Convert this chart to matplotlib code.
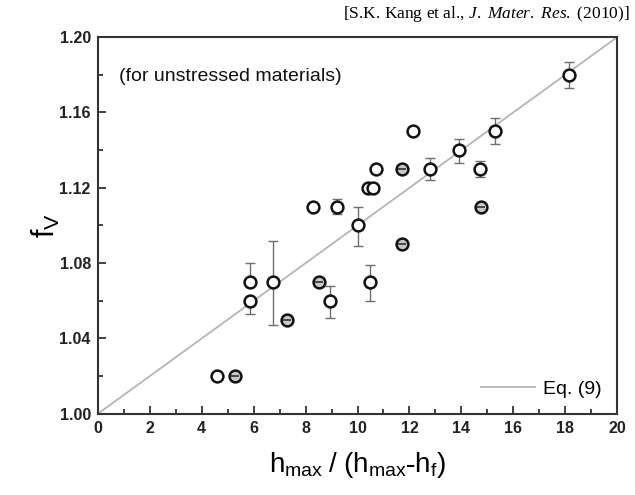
import matplotlib
matplotlib.use("Agg")
import matplotlib.pyplot as plt
import numpy as np
from matplotlib.ticker import MultipleLocator

plt.rcParams['font.family'] = ['Liberation Sans', 'DejaVu Sans']
plt.rcParams['mathtext.fontset'] = 'custom'
plt.rcParams['mathtext.rm'] = 'Liberation Serif'
plt.rcParams['mathtext.it'] = 'Liberation Serif:italic'

# open circles (with error bars where present)
x_open = [4.6, 5.85, 5.85, 6.75, 8.3, 8.95, 9.2, 10.0, 10.4, 10.6, 10.5, 10.7, 12.15, 12.8, 13.9, 14.7, 15.3, 18.15]
f_open = [1.02, 1.07, 1.06, 1.07, 1.11, 1.06, 1.11, 1.10, 1.12, 1.12, 1.07, 1.13, 1.15, 1.13, 1.14, 1.13, 1.15, 1.18]
err_lo = [0, 0, 0.007, 0.023, 0, 0.009, 0.004, 0.011, 0, 0, 0.010, 0, 0, 0.006, 0.007, 0.004, 0.007, 0.007]
err_hi = [0, 0.010, 0, 0.022, 0, 0.008, 0.004, 0.010, 0, 0, 0.009, 0, 0, 0.006, 0.006, 0.004, 0.007, 0.007]

# shaded circles
x_shade = [5.3, 7.3, 8.5, 11.7, 11.7, 14.75]
f_shade = [1.02, 1.05, 1.07, 1.13, 1.09, 1.11]

# Eq. (9)
x_eq = [0, 20]
f_eq = [1.00, 1.20]

fig = plt.figure(figsize=(6.35, 4.95), dpi=100)
ax = fig.add_axes([0.154, 0.164, 0.818, 0.761])

ax.plot(x_eq, f_eq, color='#b5b5b5', lw=1.3, label='Eq. (9)', zorder=1)

ax.errorbar(x_open, f_open, yerr=[err_lo, err_hi], fmt='none', ecolor='#6e6e6e',
            elinewidth=1.0, capsize=3.5, capthick=1.0, zorder=2)
ax.plot(x_open, f_open, 'o', ms=8.5, mfc='white', mec='#111111', mew=1.8, ls='none', zorder=3)

ax.plot(x_shade, f_shade, 'o', ms=8.5, mfc='#c8c8c8', mec='#111111', mew=1.8, ls='none', zorder=3)
ax.plot(x_shade, f_shade, '_', ms=6, mec='#333333', mew=1.2, ls='none', zorder=4)

ax.set_xlim(0, 20)
ax.set_ylim(1.00, 1.20)
ax.xaxis.set_major_locator(MultipleLocator(2))
ax.xaxis.set_minor_locator(MultipleLocator(1))
ax.yaxis.set_major_locator(MultipleLocator(0.04))
ax.yaxis.set_minor_locator(MultipleLocator(0.02))
ax.yaxis.set_major_formatter(matplotlib.ticker.FormatStrFormatter('%.2f'))

for s in ax.spines.values():
    s.set_color('#333333')
    s.set_linewidth(1.5)
ax.tick_params(which='both', direction='in', color='#333333', width=1.3, top=False, right=False)
ax.tick_params(which='major', length=6, labelsize=11.5, pad=5)
ax.tick_params(which='minor', length=3.5)
for lab in ax.get_xticklabels() + ax.get_yticklabels():
    lab.set_fontweight('bold')
    lab.set_color('#222222')

ax.set_ylabel(r'$\mathregular{f_V}$', fontsize=22, labelpad=-2)
ax.set_xlabel(r'$\mathregular{h_{max}\ /\ (h_{max}\text{-}h_f)}$', fontsize=20, labelpad=10)

ax.text(0.04, 0.895, '(for unstressed materials)', transform=ax.transAxes, fontsize=14,
        color='#111111', va='center', ha='left')

ax.legend(loc='lower right', frameon=False, fontsize=14, handlelength=2.8,
          borderaxespad=0.4, handletextpad=0.4)

fig.text(0.992, 0.972, r'[S.K. Kang et al., $\mathit{J.\ Mater.\ Res.}$ (2010)]',
         family='Liberation Serif', fontsize=12.5, ha='right', va='center')

fig.savefig('out.png', dpi=100)
